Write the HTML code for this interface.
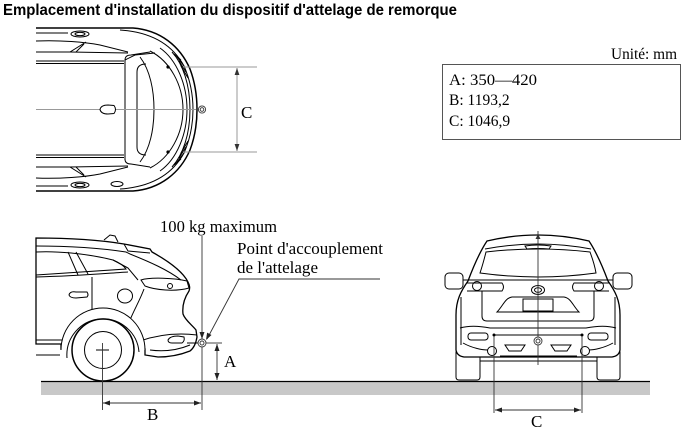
<!DOCTYPE html>
<html><head><meta charset="utf-8"><style>
html,body{margin:0;padding:0;background:#fff;}
svg{display:block}
</style></head><body>
<svg width="684" height="428" viewBox="0 0 684 428" xmlns="http://www.w3.org/2000/svg">
<rect width="684" height="428" fill="#fff"/>
<text x="3" y="15" font-family="Liberation Sans, sans-serif" font-weight="bold" font-size="15.5" textLength="454" lengthAdjust="spacingAndGlyphs">Emplacement d'installation du dispositif d'attelage de remorque</text>

<!-- ========== TOP VIEW ========== -->
<g fill="none" stroke="#000" stroke-width="1">
  <path d="M36,28 L133,28 C160,30 180,46 190,69 C196,85 197,99 197,109.5 C197,120 196,134 190,150 C180,173 160,189 133,191 L36,191" fill="#fff" stroke-width="1.5"/>
  <path d="M120,30 C150,32 172,44 184,66 C191,82 193,98 193,109.5 C193,121 191,137 184,153 C172,175 150,187 120,189"/>
  <path d="M36,33 L68,33"/>
  <ellipse cx="80" cy="34" rx="9" ry="3"/>
  <ellipse cx="80" cy="34" rx="5" ry="1.6"/>
  <path d="M36,41 C60,40 85,42 100,45 L128,52"/>
  <path d="M36,52 L70,52 L86,42"/>
  <path d="M70,52 L128,53"/>
  <path d="M76,52 L84,44"/>
  <path d="M36,61 L124,61"/>
  <path d="M36,63.5 L124,63.5"/>
  <path d="M36,186 L68,186"/>
  <ellipse cx="80" cy="185" rx="9" ry="3"/>
  <ellipse cx="80" cy="185" rx="5" ry="1.6"/>
  <path d="M36,178 C60,179 85,177 100,174 L128,167"/>
  <path d="M36,167 L70,167 L86,177"/>
  <path d="M70,167 L128,166"/>
  <path d="M76,167 L84,175"/>
  <ellipse cx="117" cy="184" rx="6" ry="2.5"/>
  <path d="M36,155 L124,155"/>
  <path d="M36,157.5 L124,157.5"/>
  <path d="M125,160 L125,60 Q125,55 131,55 L150,52" />
  <path d="M125,159 Q125,164 131,164 L150,167"/>
  <path d="M140,57 C150,70 154,90 154,109.5 C154,129 150,149 140,162"/>
  <path d="M146,64 Q137,64 137,72 L137,147 Q137,155 146,155"/>
  <path d="M150,51 C170,61 183,85 183,109.5 C183,134 170,158 150,168"/>
  <path d="M160,48 C177,60 187,85 187,109.5 C187,134 177,159 160,171"/>
  <path d="M172,52 C183,64 190,85 190,109.5 C190,134 183,155 172,167"/>
  <path d="M174,54 L181,60 M177,57 L184,66 M179,61 L186,72 M181,66 L188,78"/>
  <path d="M174,165 L181,159 M177,162 L184,153 M179,158 L186,147 M181,153 L188,141"/>
  <path d="M125,60 L135,55 L155,53"/>
</g>
<circle cx="168" cy="67" r="1.6" fill="#000"/>
<circle cx="168" cy="152" r="1.6" fill="#000"/>
<line x1="36" y1="109.5" x2="196" y2="109.5" stroke="#999" stroke-width="1"/>
<path d="M100,109.5 Q101,105 108,105 L114,105.5 Q117,109.5 114,113.5 L108,114 Q101,114 100,109.5 Z" fill="#fff" stroke="#000" stroke-width="1"/>
<circle cx="202" cy="109.5" r="3.6" fill="#fff" stroke="#333" stroke-width="0.9"/>
<circle cx="202" cy="109.5" r="1.8" fill="none" stroke="#333" stroke-width="0.9"/>
<g stroke="#999" stroke-width="1">
  <line x1="183" y1="67" x2="257" y2="67"/>
  <line x1="183" y1="152" x2="257" y2="152"/>
  <line x1="237" y1="68" x2="237" y2="151"/>
</g>
<polygon points="237,68 234.6,75 239.4,75" fill="#333"/>
<polygon points="237,151 234.6,144 239.4,144" fill="#333"/>
<text x="241" y="118" font-family="Liberation Serif, serif" font-size="17">C</text>

<!-- legend box -->
<text x="611" y="59" font-family="Liberation Serif, serif" font-size="15.5" textLength="66" lengthAdjust="spacingAndGlyphs">Unité: mm</text>
<rect x="442.5" y="64.5" width="238" height="75" fill="none" stroke="#555" stroke-width="1"/>
<g font-family="Liberation Serif, serif" font-size="15.5">
  <text x="449" y="85" textLength="88" lengthAdjust="spacingAndGlyphs">A: 350—420</text>
  <text x="449" y="105">B: 1193,2</text>
  <text x="449" y="126">C: 1046,9</text>
</g>

<!-- ground -->
<rect x="41" y="382" width="609" height="13" fill="#c8c8c8"/>
<line x1="41" y1="381.5" x2="650" y2="381.5" stroke="#000" stroke-width="1.2"/>

<!-- ========== SIDE VIEW ========== -->
<g fill="none" stroke="#000" stroke-width="1">
  <path d="M36,238 C70,238 100,240 124,244 L150,249 L152,252 C170,262 183,272 188,282 C190,286 190,288 189,291 C185,297 182,305 183,314 C185,320 192,325 196,330 L197,337 C196,343 194,348 190,351 C180,355 170,357 158,357 L145,355 L145,349 L61,349 L61,344 L36,344 Z" fill="#fff" stroke-width="1.3"/>
  <path d="M104,240 L110,235 L115,236 L118,242"/>
  <path d="M36,246 C70,246 100,248 126,252 L130,254"/>
  <path d="M124,244 L128,251 L150,253"/>
  <path d="M130,254 C150,262 168,270 181,280"/>
  <path d="M36,252 C55,251 85,253 113,260 C120,263 124,266 126,269 C100,271 70,273 36,275"/>
  <path d="M68,252 L78,275 M76,252 L88,274"/>
  <path d="M113,260 L128,268 L138,280"/>
  <path d="M92,277 L92,310"/>
  <path d="M36,277 C80,276 110,273 128,272"/>
  <path d="M141,280 C150,277 175,278 187,281 L189,288 C175,292 155,290 145,286 Z"/>
  <circle cx="170" cy="286" r="2.5"/>
  <path d="M144,289 C140,300 134,310 130,320"/>
  <ellipse cx="125" cy="296" rx="7.5" ry="7"/>
  <path d="M69,295 Q70,291 76,292 L87,292 Q89,295 87,297 L76,298 Q70,298 69,295 Z"/>
  <path d="M140,341 C160,334 180,333 197,335"/>
  <path d="M168,340 Q170,336 178,336 L184,337 Q185,341 182,343 L172,343 Q168,343 168,340 Z"/>
  <path d="M150,350 C165,352 178,350 190,345"/>
  <path d="M187,343 L198,343"/>
  <path d="M36,340 L62,340 M36,355 L60,355"/>
  <path d="M61,350 A42,42 0 0 1 145,350" fill="#fff"/>
  <path d="M67,358 A36,36 0 0 1 139,352"/>
  <circle cx="103" cy="350" r="31" fill="#fff" stroke-width="1.5"/>
  <circle cx="103" cy="350" r="18.5"/>
  <path d="M96,350 L109,350"/>
</g>
<line x1="102.5" y1="343" x2="102.5" y2="410" stroke="#333" stroke-width="0.9"/>
<circle cx="202" cy="343" r="4" fill="#fff" stroke="#333" stroke-width="0.9"/>
<circle cx="202" cy="343" r="2" fill="none" stroke="#333" stroke-width="0.9"/>
<g stroke="#333" stroke-width="0.9" fill="none">
  <line x1="202" y1="236" x2="202" y2="339"/>
  <line x1="202" y1="347" x2="202" y2="410"/>
  <polyline points="380,279 239,279 207,339"/>
  <line x1="206" y1="343" x2="222" y2="343"/>
  <line x1="217" y1="344" x2="217" y2="380"/>
  <line x1="103" y1="403" x2="201" y2="403"/>
</g>
<g fill="#222">
  <polygon points="202,339 199.5,332 204.5,332"/>
  <polygon points="206,340 211.5,335 207.1,332.6"/>
  <polygon points="217,344 214.5,351 219.5,351"/>
  <polygon points="217,380 214.5,373 219.5,373"/>
  <polygon points="103,403 110,400.5 110,405.5"/>
  <polygon points="201,403 194,400.5 194,405.5"/>
</g>
<g font-family="Liberation Serif, serif" font-size="16.5">
  <text x="160" y="232" textLength="117" lengthAdjust="spacingAndGlyphs">100 kg maximum</text>
  <text x="237" y="254" textLength="146" lengthAdjust="spacingAndGlyphs">Point d'accouplement</text>
  <text x="237" y="273" textLength="81" lengthAdjust="spacingAndGlyphs">de l'attelage</text>
  <text x="224" y="367" font-size="17">A</text>
  <text x="147" y="420" font-size="17">B</text>
</g>

<!-- ========== REAR VIEW ========== -->
<g fill="none" stroke="#000" stroke-width="1">
  <path d="M456,352 L480,352 L480,377 Q480,380 477,380 L459,380 Q456,380 456,377 Z" fill="#fff"/>
  <path d="M597,352 L620,352 L620,377 Q620,380 617,380 L600,380 Q597,380 597,377 Z" fill="#fff"/>
  <path d="M487,241 Q538,229 589,241 C595,250 602,265 608,281 C615,291 620,300 620,315 L620,350 Q619,356 612,357 L464,357 Q457,356 456,350 L456,315 C456,300 461,291 468,281 C474,265 481,250 487,241 Z" fill="#fff" stroke-width="1.3"/>
  <path d="M485,249 Q538,239 591,249"/>
  <path d="M525,246 Q538,244 551,246 L549,249 Q538,248 527,249 Z"/>
  <path d="M486,252 Q538,246 590,252 C593,260 595,267 596,273 Q538,281 480,273 C482,267 484,260 486,252 Z"/>
  <rect x="445" y="273" width="18" height="16" rx="4" fill="#fff"/>
  <rect x="613" y="273" width="19" height="16" rx="4" fill="#fff"/>
  <path d="M463,280 L613,280"/>
  <path d="M467,283 L502,283 Q505,287 502,291 L467,291"/>
  <path d="M609,283 L574,283 Q571,287 574,291 L609,291"/>
  <circle cx="477" cy="286" r="4.5"/>
  <circle cx="599" cy="286" r="4.5"/>
  <path d="M482,291 L482,316 Q482,321 487,321 L589,321 Q594,321 594,316 L594,291"/>
  <ellipse cx="538" cy="290" rx="6.5" ry="4.5"/>
  <ellipse cx="538" cy="290" rx="3.5" ry="2.3"/>
  <path d="M497,312 C503,306 505,298 512,297 L564,297 C571,298 573,306 579,312 Z"/>
  <rect x="523" y="299" width="30" height="12"/>
  <path d="M461,297 L461,345 M615,297 L615,345"/>
  <path d="M460,328 C470,325 480,326 490,328 L586,328 C596,326 606,325 616,328"/>
  <rect x="468" y="333" width="20" height="7" rx="3"/>
  <rect x="588" y="333" width="20" height="7" rx="3"/>
  <path d="M463,343 C472,348 482,350 488,350"/>
  <path d="M613,343 C604,348 594,350 588,350"/>
  <path d="M494,335 L582,335"/>
  <path d="M505,345 L525,345 L521,351 L509,351 Z"/>
  <path d="M551,345 L571,345 L567,351 L555,351 Z"/>
  <path d="M500,356 L577,356"/>
  <path d="M480,361 L597,361"/>
  <circle cx="492" cy="351" r="4.5" fill="#fff"/>
  <circle cx="585" cy="351" r="4.5" fill="#fff"/>
</g>
<polygon points="538,234 535.5,239 540.5,239" fill="#333"/>
<line x1="538" y1="231" x2="538" y2="365" stroke="#333" stroke-width="0.9"/>
<circle cx="538" cy="341" r="4" fill="#fff" stroke="#333" stroke-width="0.9"/>
<circle cx="538" cy="341" r="2" fill="none" stroke="#333" stroke-width="0.9"/>
<circle cx="494" cy="335" r="1.5" fill="#000"/>
<circle cx="582" cy="335" r="1.5" fill="#000"/>
<g stroke="#333" stroke-width="0.9">
  <line x1="494" y1="336" x2="494" y2="413"/>
  <line x1="582" y1="336" x2="582" y2="413"/>
  <line x1="495" y1="410" x2="581" y2="410"/>
</g>
<polygon points="495,410 502,407.5 502,412.5" fill="#222"/>
<polygon points="581,410 574,407.5 574,412.5" fill="#222"/>
<text x="531" y="427" font-family="Liberation Serif, serif" font-size="17">C</text>
</svg>
</body></html>
